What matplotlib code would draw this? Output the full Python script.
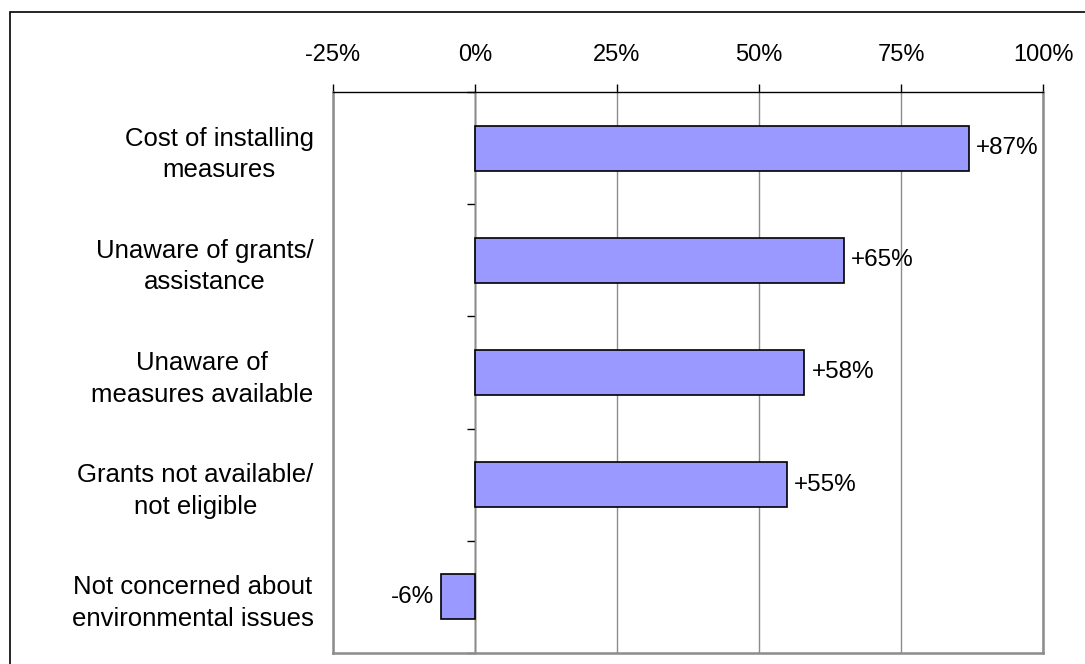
import numpy as np
import matplotlib
matplotlib.use('Agg')
import matplotlib.pyplot as plt
from matplotlib.patches import Rectangle

plt.rcParams['font.family'] = ['Liberation Sans', 'DejaVu Sans']

# Net change per barrier (percentage points)
barriers = [
    'Cost of installing\nmeasures',
    'Unaware of grants/\nassistance',
    'Unaware of\nmeasures available',
    'Grants not available/\nnot eligible',
    'Not concerned about\nenvironmental issues',
]
net_change = [87, 65, 58, 55, -6]
xticks = [-25, 0, 25, 50, 75, 100]

fig = plt.figure(figsize=(10.85, 6.64), dpi=100)
ax = fig.add_axes([333 / 1085, 1 - 653 / 664, 710 / 1085, 561 / 664])

y = np.arange(len(barriers))
bars = ax.barh(y, net_change, height=0.4, color='#9999FF', edgecolor='black', linewidth=1.2, zorder=3)
ax.bar_label(bars, labels=[f'{v:+d}%' for v in net_change], padding=5, fontsize=17.5)

ax.set_xlim(-25, 100)
ax.set_ylim(len(barriers) - 0.5, -0.5)

# percentage axis across the top
ax.xaxis.tick_top()
ax.set_xticks(xticks, labels=[f'{t}%' for t in xticks])
ax.tick_params(axis='x', direction='out', length=6, width=1, pad=13, labelsize=17, color='black')
ax.grid(axis='x', color='#8c8c8c', linewidth=1)
ax.set_axisbelow(True)

ax.set_yticks(y, labels=barriers)
ax.tick_params(axis='y', length=0, pad=14, labelsize=18.5)
for lbl in ax.get_yticklabels():
    lbl.set_multialignment('center')
    lbl.set_linespacing(1.4)

for side in ['left', 'right', 'bottom']:
    ax.spines[side].set_color('#8c8c8c')
    ax.spines[side].set_linewidth(1.8)
ax.spines['top'].set_color('black')
ax.spines['top'].set_linewidth(1)

# category axis sitting on the zero line
zero_axis = ax.secondary_yaxis(25 / 125)
zero_axis.set_yticks(np.arange(len(barriers) + 1) - 0.5)
zero_axis.tick_params(direction='out', length=6, width=1, labelleft=False, labelright=False)
zero_axis.spines['left'].set_linewidth(1)

# chart frame
fig.add_artist(Rectangle((10 / 1085, -0.2), 1.2, 1.2 - 12 / 664, fill=False,
                         edgecolor='black', linewidth=1.2, transform=fig.transFigure, clip_on=False))

fig.savefig('out.png', dpi=100)
